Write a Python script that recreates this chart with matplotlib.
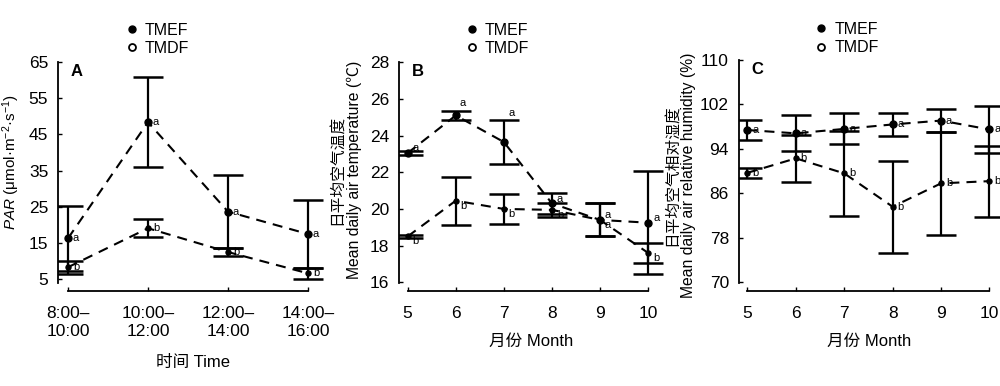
import matplotlib
matplotlib.use("Agg")
import matplotlib.pyplot as plt
from matplotlib.lines import Line2D

plt.rcParams["font.family"] = ["Liberation Sans", "Noto Sans CJK SC", "DejaVu Sans"]
plt.rcParams["mathtext.fontset"] = "custom"
plt.rcParams["mathtext.rm"] = "Liberation Sans"
plt.rcParams["mathtext.it"] = "Liberation Sans:italic"
plt.rcParams["font.size"] = 11

# ---- data -------------------------------------------------------------
time_labels = ["8:00–\n10:00", "10:00–\n12:00", "12:00–\n14:00", "14:00–\n16:00"]
months = [5, 6, 7, 8, 9, 10]

# A: PAR (mean, error)
par_tmef = [16.2, 48.4, 23.6, 17.4]
par_tmef_err = [9.1, 12.5, 10.2, 9.4]
par_tmdf = [8.2, 19.0, 12.4, 6.5]
par_tmdf_err = [1.8, 2.45, 1.15, 1.55]
par_tmef_sig = ["a", "a", "a", "a"]
par_tmdf_sig = ["b", "b", "b", "b"]

# B: mean daily air temperature
temp_tmef = [23.05, 25.1, 23.65, 20.3, 19.4, 19.25]
temp_tmef_err = [0.12, 0.23, 1.18, 0.55, 0.9, 2.8]
temp_tmdf = [18.5, 20.45, 20.0, 19.95, 19.4, 17.6]
temp_tmdf_err = [0.1, 1.3, 0.8, 0.4, 0.9, 0.55]
temp_tmef_sig = ["a", "a", "a", "a", "a", "a"]
temp_tmdf_sig = ["b", "b", "b", "b", "a", "b"]

# C: mean daily air relative humidity
rh_tmef = [97.4, 96.8, 97.6, 98.4, 99.1, 97.5]
rh_tmef_err = [1.85, 3.25, 2.8, 2.15, 2.1, 4.2]
rh_tmdf = [89.7, 92.3, 89.6, 83.6, 87.8, 88.2]
rh_tmdf_err = [0.85, 4.25, 7.7, 8.3, 9.3, 6.4]
rh_tmef_sig = ["a", "a", "a", "a", "a", "a"]
rh_tmdf_sig = ["b", "b", "b", "b", "b", "b"]

W, H = 1000, 386
fig = plt.figure(figsize=(W / 100, H / 100), dpi=100)


def px_axes(left, top, width, bottom):
    return fig.add_axes([left / W, (H - bottom) / H, width / W, (bottom - top) / H])


def draw_series(ax, x, y, err, sig, ms, lift=(), dy=0.0):
    ax.errorbar(x, y, yerr=err, fmt="none", ecolor="black", elinewidth=1.6,
                capsize=10.8, capthick=1.8, zorder=2)
    ax.plot(x, y, color="black", lw=1.5, ls=(0, (4.8, 3.4)), marker="o",
            ms=ms, zorder=3)
    for i, (xi, yi, ei, s) in enumerate(zip(x, y, err, sig)):
        if i in lift:
            ax.annotate(s, (xi, yi + ei), xytext=(3, 2), textcoords="offset points",
                        ha="left", va="bottom", fontsize=8)
        else:
            ax.annotate(s, (xi, yi), xytext=(3.5, dy), textcoords="offset points",
                        ha="left", va="center", fontsize=8)


def style(ax, xlim, ylim, yticks, xfirst, xlast, letter, leg_x, leg_y):
    ax.set_xlim(*xlim)
    ax.set_ylim(*ylim)
    ax.set_yticks(yticks)
    for s in ["top", "right"]:
        ax.spines[s].set_visible(False)
    ax.spines["left"].set_linewidth(1.3)
    ax.spines["bottom"].set_linewidth(1.3)
    ax.spines["bottom"].set_position(("outward", 5.8))
    ax.spines["bottom"].set_bounds(xfirst, xlast)
    ax.tick_params(axis="y", direction="in", length=3, width=1, pad=7, labelsize=12.5)
    ax.tick_params(axis="x", direction="in", length=3, width=1, pad=11, labelsize=12.5)
    ax.annotate(letter, (0, 1), xycoords="axes fraction", xytext=(13.5, -6.5),
                textcoords="offset points", ha="center", va="center",
                fontsize=12, fontweight="bold")
    handles = [
        Line2D([], [], ls="none", marker="o", ms=5, color="black"),
        Line2D([], [], ls="none", marker="o", ms=5, mfc="white", mec="black", mew=1.3),
    ]
    ax.legend(handles, ["TMEF", "TMDF"], loc="upper left", bbox_to_anchor=(leg_x, leg_y),
              frameon=False, handlelength=1.0, handletextpad=0.3, labelspacing=0.2,
              borderpad=0, borderaxespad=0, fontsize=11.5)


# ---- panel A ----------------------------------------------------------
axA = px_axes(58, 62.3, 270, 283)
xA = list(range(len(time_labels)))
draw_series(axA, xA, par_tmef, par_tmef_err, par_tmef_sig, 5)
draw_series(axA, xA, par_tmdf, par_tmdf_err, par_tmdf_sig, 3.6)
style(axA, (-0.125, 3.25), (3.82, 65), [5, 15, 25, 35, 45, 55, 65], 0, 3, "A", 0.245, 1.18)
axA.set_xticks(xA)
axA.set_xticklabels(time_labels, linespacing=1.25)
axA.set_xlabel("时间 Time", labelpad=11, fontsize=12)
fig.text(11 / W, 1 - 162 / H, r"$\it{PAR}$ (μmol·m$^{-2}$·s$^{-1}$)", rotation=90,
         ha="center", va="center", fontsize=11)

# ---- panel B ----------------------------------------------------------
axB = px_axes(399, 62.3, 263.6, 283)
draw_series(axB, months, temp_tmef, temp_tmef_err, temp_tmef_sig, 5, lift=(1, 2), dy=3.5)
draw_series(axB, months, temp_tmdf, temp_tmdf_err, temp_tmdf_sig, 3.6, dy=-3.5)
style(axB, (4.82, 10.3), (15.96, 28), [16, 18, 20, 22, 24, 26, 28], 5, 10, "B", 0.247, 1.18)
axB.set_xticks(months)
axB.set_xlabel("月份 Month", labelpad=9, fontsize=12)
fig.text(346 / W, 1 - 170 / H, "日平均空气温度\nMean daily air temperature (℃)",
         rotation=90, ha="center", va="center", fontsize=11.3, linespacing=1.15)

# ---- panel C ----------------------------------------------------------
axC = px_axes(738.7, 60, 260.4, 283)
draw_series(axC, months, rh_tmef, rh_tmef_err, rh_tmef_sig, 5)
draw_series(axC, months, rh_tmdf, rh_tmdf_err, rh_tmdf_sig, 3.6)
style(axC, (4.82, 10.2), (69.87, 110), [70, 78, 86, 94, 102, 110], 5, 10, "C", 0.287, 1.17)
axC.set_xticks(months)
axC.set_xlabel("月份 Month", labelpad=9, fontsize=12)
fig.text(680.5 / W, 1 - 175 / H, "日平均空气相对湿度\nMean daily air relative humidity (%)",
         rotation=90, ha="center", va="center", fontsize=11.3, linespacing=1.1)

fig.savefig("out.png", dpi=100)
